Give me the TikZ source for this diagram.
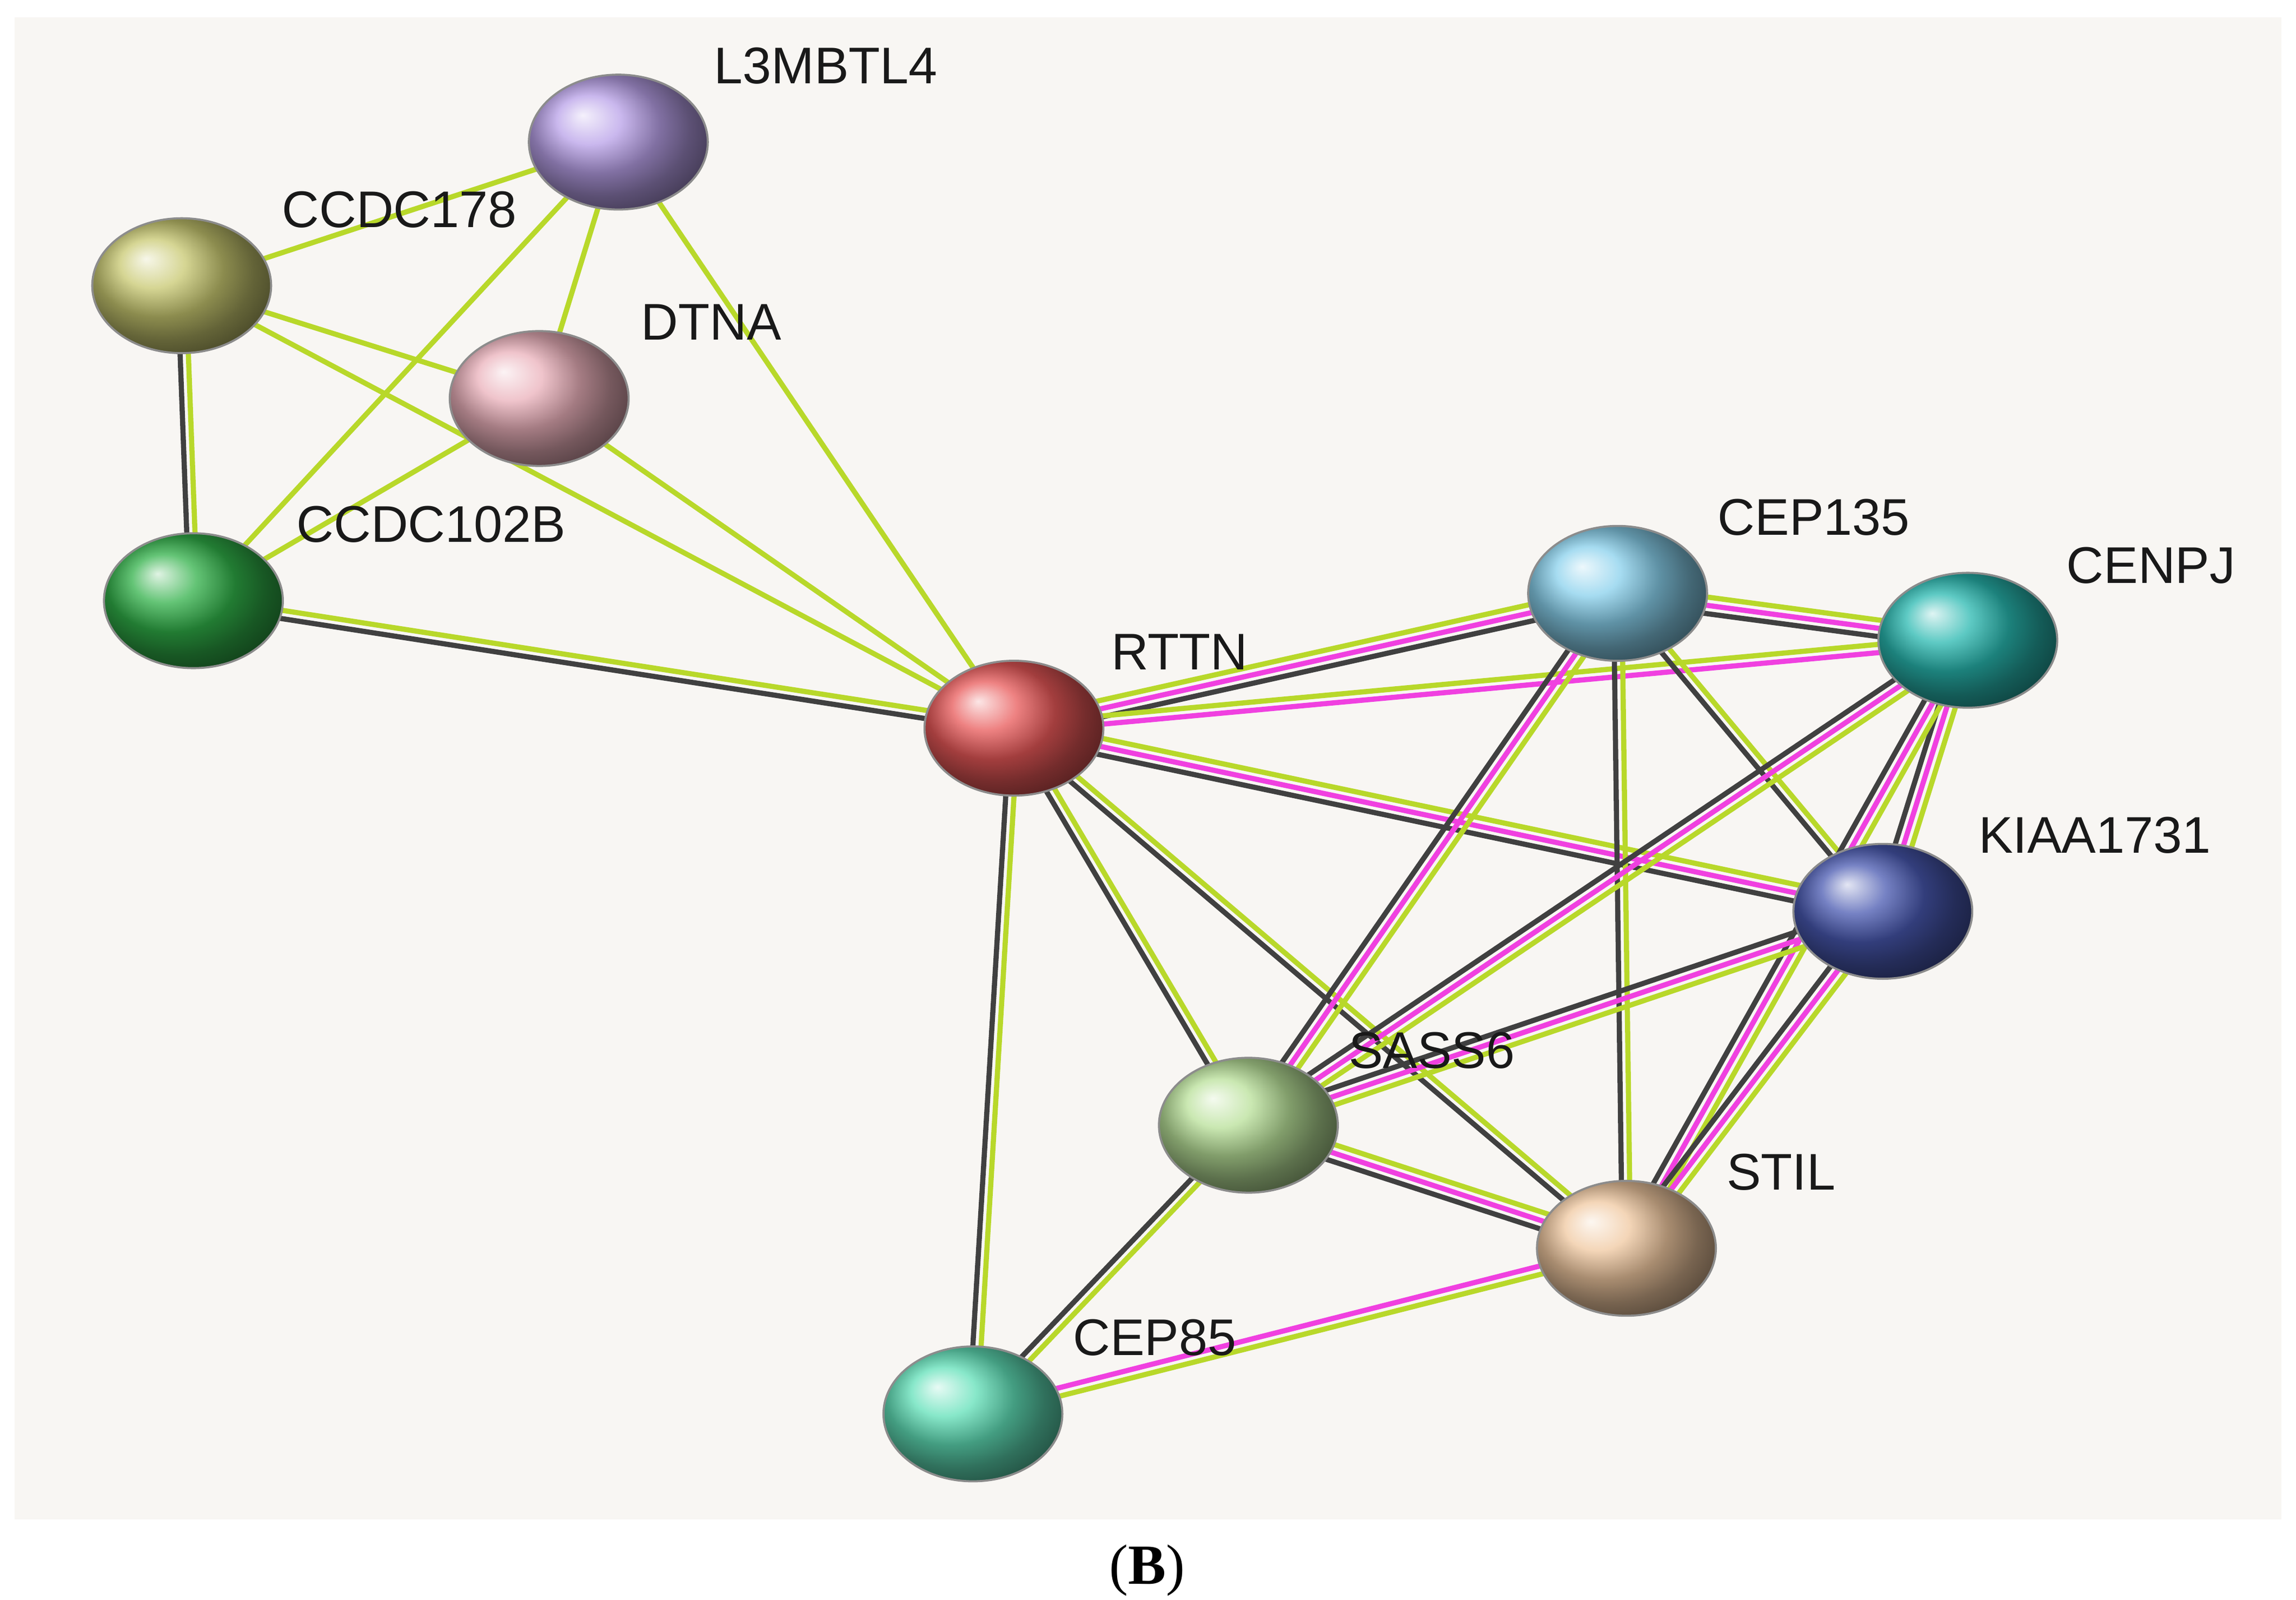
\documentclass[tikz,border=0pt]{standalone}
\usepackage{fontspec}
\setmainfont{Liberation Sans}
\newfontfamily\capfont{Liberation Serif}
\usetikzlibrary{calc,shapes.geometric}
\definecolor{bg}{HTML}{F8F6F3}
\definecolor{yg}{HTML}{B8D82A}
\definecolor{mg}{HTML}{F040E0}
\definecolor{bk}{HTML}{404040}
\definecolor{cLa}{HTML}{B8A0E8}
\definecolor{cCa}{HTML}{C8C870}
\definecolor{cDa}{HTML}{EAB0BA}
\definecolor{cCb}{HTML}{30B048}
\definecolor{cRa}{HTML}{E85858}
\definecolor{cCc}{HTML}{88D0EC}
\definecolor{cCj}{HTML}{28B8B0}
\definecolor{cKa}{HTML}{4858B0}
\definecolor{cSa}{HTML}{B8E098}
\definecolor{cSt}{HTML}{F0C8A0}
\definecolor{cCe}{HTML}{60E0B8}
\tikzset{
 prot/.style={ellipse,minimum width=1.22cm,minimum height=0.92cm,inner sep=0pt,shading=ball,ball color=#1,draw=black!45,line width=0.4pt},
 lab/.style={anchor=west,font=\fontsize{10}{12}\selectfont,text=black!90},
 ln/.style={line width=1.0pt}
}
\newcommand\pe[4]{%
 \foreach \c [count=\i] in {#4}{%
  \pgfmathsetmacro\o{(\i-(#3+1)/2)*1.6}%
  \draw[ln,draw=\c] ($(#1)!\o pt!90:(#2)$) -- ($(#2)!\o pt!-90:(#1)$);}}
\begin{document}
\begin{tikzpicture}[x=0.01cm,y=-0.01cm]
\useasboundingbox (0,0) rectangle (1567,1092);
\fill[white] (0,0) rectangle (1567,1092);
\fill[bg] (10,12) rectangle (1557,1037);
\coordinate (L) at (422,97);
\coordinate (C178) at (124,195);
\coordinate (D) at (368,272);
\coordinate (C102) at (132,410);
\coordinate (R) at (692,497);
\coordinate (C135) at (1104,405);
\coordinate (CJ) at (1343,437);
\coordinate (K) at (1285,622);
\coordinate (S6) at (852,768);
\coordinate (ST) at (1110,852);
\coordinate (C85) at (664,965);
\pe{L}{C178}{1}{yg}
\pe{L}{D}{1}{yg}
\pe{L}{C102}{1}{yg}
\pe{L}{R}{1}{yg}
\pe{C178}{D}{1}{yg}
\pe{C178}{C102}{2}{bk,yg}
\pe{C178}{R}{1}{yg}
\pe{D}{C102}{1}{yg}
\pe{D}{R}{1}{yg}
\pe{C102}{R}{2}{bk,yg}
\pe{R}{C135}{3}{bk,mg,yg}
\pe{R}{CJ}{2}{mg,yg}
\pe{R}{K}{3}{bk,mg,yg}
\pe{R}{S6}{2}{bk,yg}
\pe{R}{ST}{2}{bk,yg}
\pe{R}{C85}{2}{bk,yg}
\pe{C135}{CJ}{3}{bk,mg,yg}
\pe{C135}{K}{2}{bk,yg}
\pe{C135}{S6}{3}{bk,mg,yg}
\pe{C135}{ST}{2}{bk,yg}
\pe{CJ}{K}{3}{bk,mg,yg}
\pe{CJ}{S6}{3}{bk,mg,yg}
\pe{CJ}{ST}{3}{bk,mg,yg}
\pe{K}{S6}{3}{bk,mg,yg}
\pe{K}{ST}{3}{bk,mg,yg}
\pe{S6}{ST}{3}{bk,mg,yg}
\pe{S6}{C85}{2}{bk,yg}
\pe{ST}{C85}{2}{mg,yg}
\node[prot=cLa] (nL) at (L) {};
\node[prot=cCa] (nC178) at (C178) {};
\node[prot=cDa] (nD) at (D) {};
\node[prot=cCb] (nC102) at (C102) {};
\node[prot=cRa] (nR) at (R) {};
\node[prot=cCc] (nC135) at (C135) {};
\node[prot=cCj] (nCJ) at (CJ) {};
\node[prot=cKa] (nK) at (K) {};
\node[prot=cSa] (nS6) at (S6) {};
\node[prot=cSt] (nST) at (ST) {};
\node[prot=cCe] (nC85) at (C85) {};
\node[lab] at (475,45) {L3MBTL4};
\node[lab] at (180,143) {CCDC178};
\node[lab] at (425,220) {DTNA};
\node[lab] at (190,358) {CCDC102B};
\node[lab] at (746,445) {RTTN};
\node[lab] at (1160,353) {CEP135};
\node[lab] at (1398,386) {CENPJ};
\node[lab] at (1338,570) {KIAA1731};
\node[lab] at (908,717) {SASS6};
\node[lab] at (1166,800) {STIL};
\node[lab] at (720,913) {CEP85};
\node[font=\capfont\fontsize{11}{13}\selectfont] at (783,1072) {(\textbf{B})};
\end{tikzpicture}
\end{document}
